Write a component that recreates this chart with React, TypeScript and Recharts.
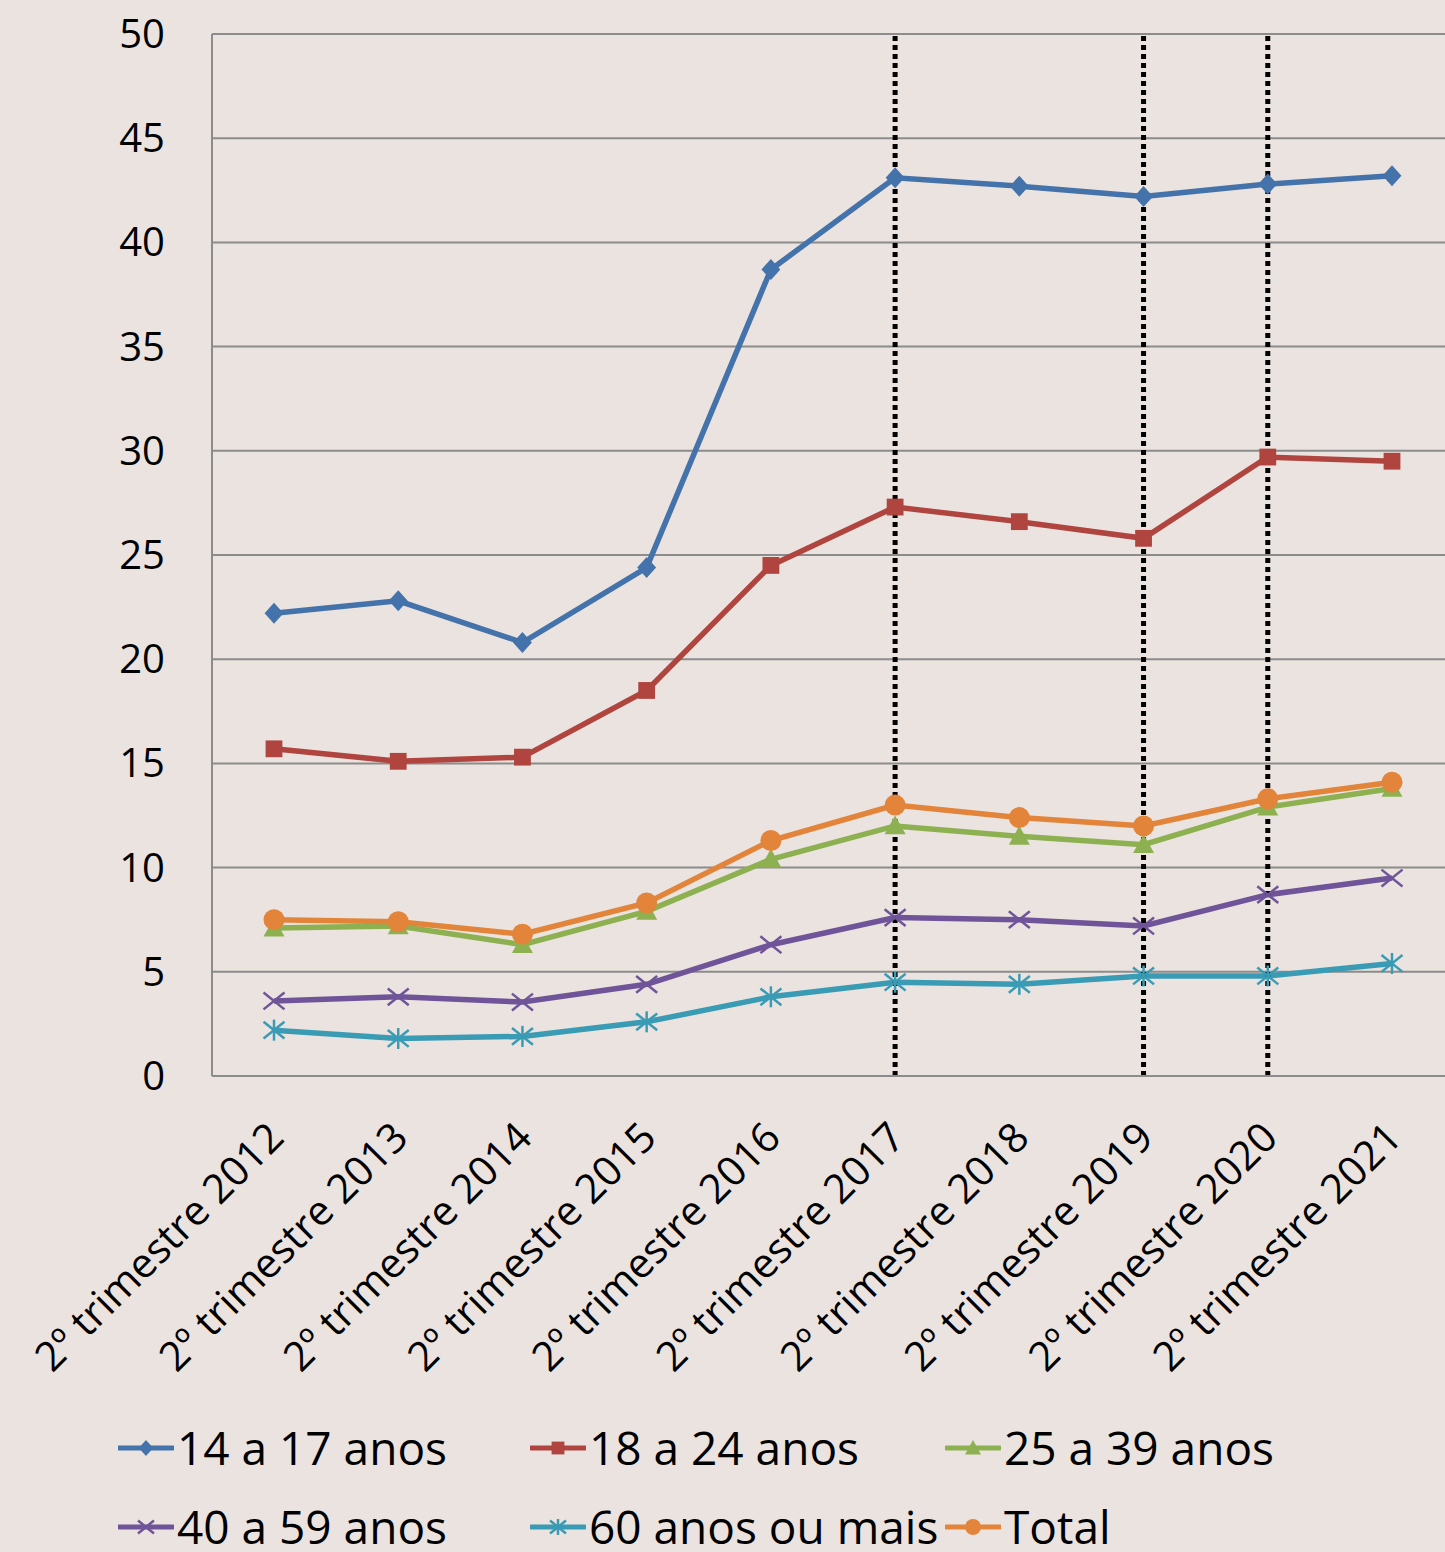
import { CartesianGrid, Legend, Line, LineChart, ReferenceLine, XAxis, YAxis } from 'recharts';

const categories = [
  '2º trimestre 2012',
  '2º trimestre 2013',
  '2º trimestre 2014',
  '2º trimestre 2015',
  '2º trimestre 2016',
  '2º trimestre 2017',
  '2º trimestre 2018',
  '2º trimestre 2019',
  '2º trimestre 2020',
  '2º trimestre 2021',
];

const anos14a17 = [22.2, 22.8, 20.8, 24.4, 38.7, 43.1, 42.7, 42.2, 42.8, 43.2];
const anos18a24 = [15.7, 15.1, 15.3, 18.5, 24.5, 27.3, 26.6, 25.8, 29.7, 29.5];
const anos25a39 = [7.1, 7.2, 6.3, 7.9, 10.4, 12.0, 11.5, 11.1, 12.9, 13.8];
const anos40a59 = [3.6, 3.8, 3.55, 4.4, 6.3, 7.6, 7.5, 7.2, 8.7, 9.5];
const anos60mais = [2.2, 1.8, 1.9, 2.6, 3.8, 4.5, 4.4, 4.8, 4.8, 5.4];
const total = [7.5, 7.4, 6.8, 8.3, 11.3, 13.0, 12.4, 12.0, 13.3, 14.1];

const yTicks = [0, 5, 10, 15, 20, 25, 30, 35, 40, 45, 50];
const markedQuarters = ['2º trimestre 2017', '2º trimestre 2019', '2º trimestre 2020'];

const series = [
  { key: 'a', name: '14 a 17 anos', values: anos14a17, color: '#4472aa', shape: 'diamond' },
  { key: 'b', name: '18 a 24 anos', values: anos18a24, color: '#b0443f', shape: 'square' },
  { key: 'c', name: '25 a 39 anos', values: anos25a39, color: '#8db150', shape: 'triangle' },
  { key: 'd', name: '40 a 59 anos', values: anos40a59, color: '#705499', shape: 'x' },
  { key: 'e', name: '60 anos ou mais', values: anos60mais, color: '#3a9bb5', shape: 'star' },
  { key: 'f', name: 'Total', values: total, color: '#e2843a', shape: 'circle' },
];

const rows = categories.map((cat, i) => {
  const row: Record<string, string | number> = { cat };
  series.forEach((s) => { row[s.key] = s.values[i]; });
  return row;
});

const FONT = '"Open Sans", "Noto Sans", sans-serif';

function Marker({ cx, cy, shape, color, r }: { cx: number; cy: number; shape: string; color: string; r: number }) {
  if (shape === 'diamond') {
    return <polygon points={`${cx},${cy - r} ${cx + r * 0.9},${cy} ${cx},${cy + r} ${cx - r * 0.9},${cy}`} fill={color} />;
  }
  if (shape === 'square') {
    return <rect x={cx - r * 0.8} y={cy - r * 0.8} width={r * 1.6} height={r * 1.6} fill={color} />;
  }
  if (shape === 'triangle') {
    return <polygon points={`${cx},${cy - r} ${cx + r},${cy + r * 0.8} ${cx - r},${cy + r * 0.8}`} fill={color} />;
  }
  if (shape === 'x') {
    return (
      <g stroke={color} strokeWidth={2.5}>
        <line x1={cx - r} y1={cy - r * 0.8} x2={cx + r} y2={cy + r * 0.8} />
        <line x1={cx - r} y1={cy + r * 0.8} x2={cx + r} y2={cy - r * 0.8} />
      </g>
    );
  }
  if (shape === 'star') {
    return (
      <g stroke={color} strokeWidth={2.5}>
        <line x1={cx - r} y1={cy - r * 0.8} x2={cx + r} y2={cy + r * 0.8} />
        <line x1={cx - r} y1={cy + r * 0.8} x2={cx + r} y2={cy - r * 0.8} />
        <line x1={cx} y1={cy - r} x2={cx} y2={cy + r} />
      </g>
    );
  }
  return <circle cx={cx} cy={cy} r={r} fill={color} />;
}

function XTick({ x, y, payload }: any) {
  const bx = x + 12;
  const by = y + 64;
  return (
    <text x={bx} y={by} transform={`rotate(-45, ${bx}, ${by})`} textAnchor="end" fontSize={41} fontFamily={FONT} fill="#000">
      {payload.value}
    </text>
  );
}

function YTick({ x, y, payload }: any) {
  return (
    <text x={x - 47} y={y} dy={14} textAnchor="end" fontSize={40} fontFamily={FONT} fill="#000">
      {payload.value}
    </text>
  );
}

function LegendBox() {
  return (
    <div style={{ display: 'grid', gridTemplateColumns: '412px 415px 420px', marginLeft: 118, fontFamily: FONT, fontSize: 46, lineHeight: '79px', color: '#000' }}>
      {series.map((s) => (
        <div key={s.key} style={{ display: 'flex', alignItems: 'center', whiteSpace: 'nowrap', height: 79 }}>
          <svg width={56} height={24} style={{ flex: 'none' }}>
            <line x1={1} y1={12} x2={55} y2={12} stroke={s.color} strokeWidth={5} strokeLinecap="round" />
            <Marker cx={28} cy={12} shape={s.shape} color={s.color} r={8} />
          </svg>
          <span style={{ marginLeft: 3 }}>{s.name}</span>
        </div>
      ))}
    </div>
  );
}

export default function App() {
  return (
    <div style={{ position: 'absolute', left: 0, top: 0, width: 1445, height: 1552, overflow: 'hidden', background: '#ebe3df' }}>
      <LineChart width={1460} height={1552} data={rows} margin={{ top: 34, right: 6, bottom: 0, left: 0 }}>
        <CartesianGrid vertical={false} stroke="#8c8c8c" strokeWidth={2} />
        <XAxis dataKey="cat" height={318} interval={0} padding={{ left: 62, right: 62 }} tickLine={false} tickSize={0} tickMargin={0} axisLine={{ stroke: '#8c8c8c', strokeWidth: 2 }} tick={<XTick />} />
        <YAxis width={212} domain={[0, 50]} ticks={yTicks} tickLine={false} tickSize={0} tickMargin={0} axisLine={{ stroke: '#8c8c8c', strokeWidth: 2 }} tick={<YTick />} />
        <Legend verticalAlign="bottom" content={() => <LegendBox />} wrapperStyle={{ height: 158, bottom: -14 }} />
        {series.map((s) => (
          <Line
            key={s.key}
            type="linear"
            dataKey={s.key}
            name={s.name}
            stroke={s.color}
            strokeWidth={5.5}
            isAnimationActive={false}
            activeDot={false}
            dot={(p: any) => <Marker key={`${s.key}-${p.index}`} cx={p.cx} cy={p.cy} shape={s.shape} color={s.color} r={10.5} />}
          />
        ))}
        {markedQuarters.map((q) => (
          <ReferenceLine key={q} x={q} stroke="#000" strokeWidth={5} strokeDasharray="5 4" />
        ))}
      </LineChart>
    </div>
  );
}
